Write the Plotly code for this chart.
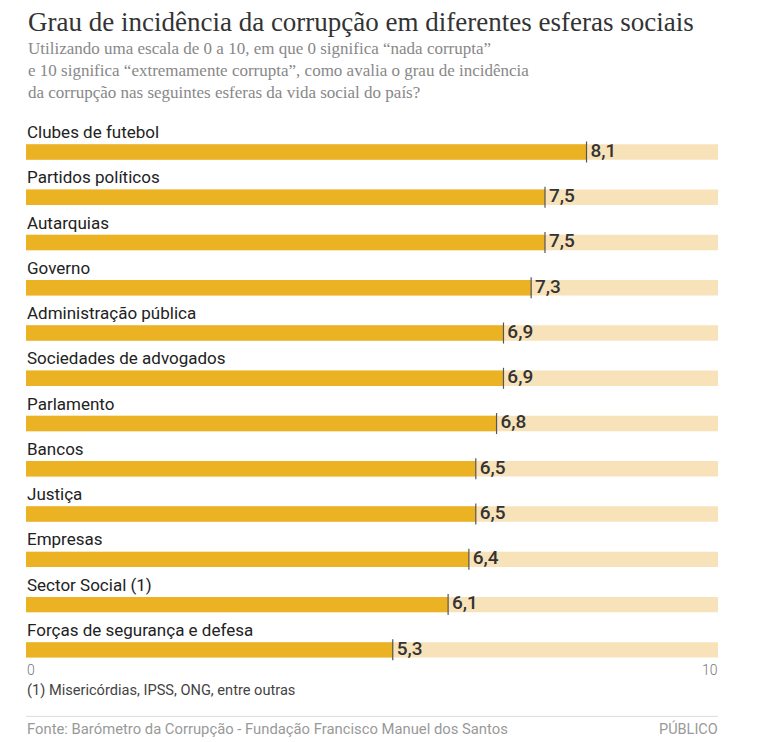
import plotly.graph_objects as go

# data
categories = [
    "Clubes de futebol",
    "Partidos políticos",
    "Autarquias",
    "Governo",
    "Administração pública",
    "Sociedades de advogados",
    "Parlamento",
    "Bancos",
    "Justiça",
    "Empresas",
    "Sector Social (1)",
    "Forças de segurança e defesa",
]
scores = [8.1, 7.5, 7.5, 7.3, 6.9, 6.9, 6.8, 6.5, 6.5, 6.4, 6.1, 5.3]
scale_max = 10
tick_labels = ["0", "10"]
tick_values = [0, 10]

GOLD = "#EBB223"
LIGHT = "#F8E2B9"
SANS = "Roboto, 'Liberation Sans', sans-serif"
SERIF = "'Liberation Serif', 'DejaVu Serif', serif"

ypos = list(range(len(categories)))


def fmt(v):
    # decimal comma, thin space keeps the number off the end tick
    return "\u2009" + f"{v:.1f}".replace(".", ",")


def create_traces():
    background = go.Bar(
        x=[scale_max] * len(categories), y=ypos, orientation="h",
        marker=dict(color=LIGHT, line_width=0), width=0.34,
        hoverinfo="skip",
    )
    fill = go.Bar(
        x=scores, y=ypos, orientation="h",
        marker=dict(color=GOLD, line_width=0), width=0.34,
        hovertext=categories, hoverinfo="text+x",
    )
    ends = go.Scatter(
        x=scores, y=ypos, mode="markers",
        marker=dict(symbol="line-ns", size=15, line=dict(width=1.2, color="#555")),
        hoverinfo="skip", cliponaxis=False,
    )
    values = go.Scatter(
        x=scores, y=ypos, mode="text",
        text=[fmt(v) for v in scores],
        textposition="middle right",
        textfont=dict(family=SANS, size=19, color="#333", weight=500),
        hoverinfo="skip", cliponaxis=False,
    )
    return [background, fill, ends, values]


def create_annotations():
    last = len(categories) - 1
    ann = []
    for i, name in enumerate(categories):
        ann.append(dict(
            x=0, y=i, xref="x", yref="y", text=name, showarrow=False,
            xanchor="left", yanchor="bottom", xshift=-1, yshift=8,
            font=dict(family=SANS, size=17, color="#222"),
        ))
    for v, t in zip(tick_values, tick_labels):
        ann.append(dict(
            x=v, y=last, xref="x", yref="y", text=t, showarrow=False,
            xanchor="left" if v == 0 else "right", yanchor="top",
            xshift=-1 if v == 0 else 2, yshift=-10.5,
            font=dict(family=SANS, size=14, color="#777", weight=300),
        ))
    ann.append(dict(
        x=0, y=last, xref="x", yref="y",
        text="(1) Misericórdias, IPSS, ONG, entre outras", showarrow=False,
        xanchor="left", yanchor="top", xshift=-1, yshift=-29,
        font=dict(family=SANS, size=14.6, color="#444"),
    ))
    ann.append(dict(
        x=0, y=0, xref="x", yref="paper",
        text="Fonte: Barómetro da Corrupção - Fundação Francisco Manuel dos Santos",
        showarrow=False, xanchor="left", yanchor="top", xshift=-1, yshift=-41,
        font=dict(family=SANS, size=14.8, color="#999"),
    ))
    ann.append(dict(
        x=scale_max, y=0, xref="x", yref="paper", text="PÚBLICO",
        showarrow=False, xanchor="right", yanchor="top", xshift=2, yshift=-41,
        font=dict(family=SANS, size=14.5, color="#999"),
    ))
    ann.append(dict(
        x=0, y=1, xref="paper", yref="paper",
        text="Grau de incidência da corrupção em diferentes esferas sociais",
        showarrow=False, xanchor="left", yanchor="bottom", yshift=70, xshift=0,
        font=dict(family=SERIF, size=27, color="#333"),
    ))
    ann.append(dict(
        x=0, y=1, xref="paper", yref="paper",
        text=("Utilizando uma escala de 0 a 10, em que 0 significa “nada corrupta”<br>"
              "e 10 significa “extremamente corrupta”, como avalia o grau de incidência<br>"
              "da corrupção nas seguintes esferas da vida social do país?"),
        showarrow=False, xanchor="left", yanchor="bottom", yshift=4.5, xshift=0,
        align="left",
        font=dict(family=SERIF, size=17, color="#888"),
    ))
    return ann


def create_layout():
    return go.Layout(
        width=765, height=742,
        barmode="overlay", showlegend=False,
        plot_bgcolor="white", paper_bgcolor="white",
        margin=dict(l=18, r=55, t=100.5, b=73.4),
        xaxis=dict(range=[0, scale_max], visible=False, fixedrange=True),
        yaxis=dict(range=[len(categories) - 0.4, -0.95], visible=False, fixedrange=True),
        annotations=create_annotations(),
        shapes=[dict(type="line", xref="x", yref="paper", x0=0, x1=scale_max,
                     ysizemode="pixel", yanchor=0, y0=-39.4, y1=-39.4,
                     line=dict(color="#ddd", width=1))],
        hovermode="closest",
    )


fig = go.Figure(data=create_traces(), layout=create_layout())
fig.write_html("out.html")
